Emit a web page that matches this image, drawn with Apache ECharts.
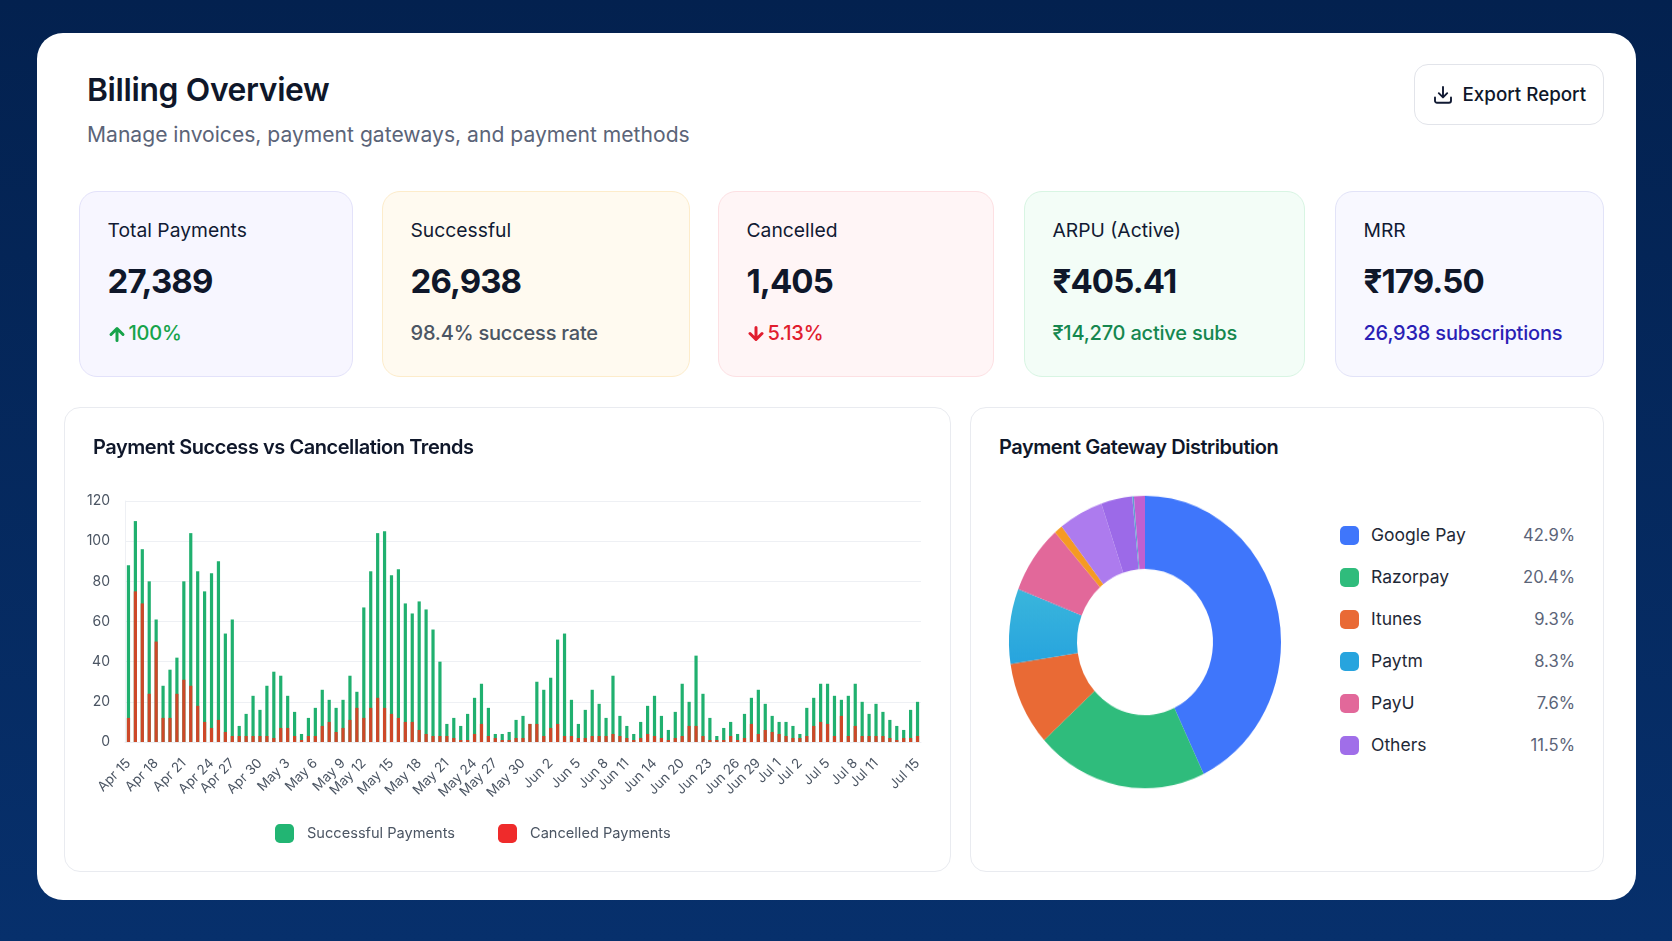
<!DOCTYPE html>
<html lang="en">
<head>
<meta charset="utf-8">
<title>Billing Overview</title>
<script src="https://cdn.jsdelivr.net/npm/echarts@6/dist/echarts.min.js"></script>
<style>
  * { box-sizing: border-box; margin: 0; padding: 0; }
  html, body { width: 1672px; height: 941px; overflow: hidden; }
  body { background: linear-gradient(180deg, #03214f 0%, #07306c 100%); font-family: Inter, "Noto Sans", sans-serif; position: relative; color: #0f172a; }
  .abs { position: absolute; }
  #sheet { left: 37px; top: 33px; width: 1599px; height: 867px; background: #fff; border-radius: 26px; }
  h1 { left: 87px; top: 70px; font-size: 31.8px; line-height: 40px; font-weight: 600; letter-spacing: -0.35px; white-space: nowrap; }
  #lead { left: 87px; top: 121px; font-size: 21.1px; line-height: 28px; color: #5b6478; white-space: nowrap; }
  #export { left: 1414px; top: 64px; width: 190px; height: 61px; border: 1.5px solid #e2e4ea; border-radius: 14px; background: #fff; }
  #export svg { position: absolute; left: 18px; top: 20px; }
  #export span { position: absolute; left: 47.5px; top: 17px; font-size: 18.8px; line-height: 26px; font-weight: 500; white-space: nowrap; }
  .kpi { top: 191px; height: 186px; border-radius: 18px; border: 1.5px solid; }
  .kpi .name { position: absolute; left: 27.5px; top: 25px; font-size: 19.3px; line-height: 26px; white-space: nowrap; color: #111a33; }
  .kpi .value { position: absolute; left: 27.5px; top: 67px; font-size: 33px; line-height: 44px; font-weight: 700; letter-spacing: -0.9px; white-space: nowrap; color: #0f172a; }
  .kpi .note { position: absolute; left: 27.5px; top: 127px; font-size: 20px; line-height: 28px; font-weight: 500; letter-spacing: -0.2px; white-space: nowrap; }
  .kpi .note svg { vertical-align: -2px; margin-right: 3px; }
  .panel { top: 407px; height: 465px; border: 1.5px solid #e9ebf0; border-radius: 16px; background: #fff; }
  .panel h2 { position: absolute; left: 28px; top: 25px; font-size: 20px; line-height: 28px; font-weight: 600; letter-spacing: -0.45px; white-space: nowrap; z-index: 2; }
  #trend { left: 64px; top: 407px; width: 886px; height: 464px; }
  #share { left: 985px; top: 492px; width: 320px; height: 300px; transform: scaleY(1.075); transform-origin: 50% 50%; }
  .row { left: 1340px; width: 235px; height: 20px; }
  .row i { position: absolute; left: 0; top: 0; width: 19px; height: 19px; border-radius: 5px; }
  .row b { position: absolute; left: 31px; top: -4px; font-size: 17.5px; line-height: 26px; font-weight: 400; color: #1f2937; white-space: nowrap; }
  .row em { position: absolute; right: 0; top: -4px; font-size: 16.6px; line-height: 26px; font-style: normal; color: #5b6478; }
</style>
</head>
<body>
<div class="abs" id="sheet"></div>
<h1 class="abs">Billing Overview</h1>
<div class="abs" id="lead">Manage invoices, payment gateways, and payment methods</div>
<div class="abs" id="export">
  <svg width="20" height="20" viewBox="0 0 20 20" fill="none" stroke="#111a33" stroke-width="1.9" stroke-linecap="round" stroke-linejoin="round">
    <path d="M10 2v10M5.8 8.2 10 12.4l4.2-4.2M2 12.5v3.2A2 2 0 0 0 4 17.7h12a2 2 0 0 0 2-2v-3.2"/>
  </svg>
  <span>Export Report</span>
</div>
<div id="kpis"></div>
<div class="abs panel" style="left:64px;width:887px"><h2>Payment Success vs Cancellation Trends</h2></div>
<div class="abs panel" style="left:970px;width:634px"><h2>Payment Gateway Distribution</h2></div>
<div class="abs" id="trend"></div>
<div class="abs" id="share"></div>
<div id="gatewayLegend"></div>

<script>
// Summary cards
const kpiNames  = ['Total Payments', 'Successful', 'Cancelled', 'ARPU (Active)', 'MRR'];
const kpiValues = ['27,389', '26,938', '1,405', '₹405.41', '₹179.50'];
const kpiNotes  = ['100%', '98.4% success rate', '5.13%', '₹14,270 active subs', '26,938 subscriptions'];
const kpiArrows = ['up', '', 'down', '', ''];

// Daily payment counts along the trend axis
const successfulPayments = [
  88,110,96,80,61,28,36,42,80,104,85,75,84,90,54,61,8,14,23,16,
  28,35,33,23,15,4,12,17,26,21,17,21,33,25,67,85,104,105,83,86,
  69,64,70,66,56,40,9,12,8,14,22,29,17,4,4,5,11,13,9,30,
  26,32,51,54,21,9,16,26,19,12,33,13,8,4,10,18,23,13,6,
  15,29,20,43,24,12,3,7,10,4,14,22,26,19,13,10,10,8,4,17,
  22,29,29,23,21,23,29,20,14,19,15,11,8,6,16,20
];
const cancelledPayments = [
  12,75,69,24,50,12,12,24,31,28,18,10,7,11,5,3,3,3,3,3,
  3,2,7,7,3,1,3,3,8,10,5,7,11,17,12,17,22,17,14,12,
  10,10,6,4,3,3,3,2,1,1,4,9,3,2,1,1,2,2,9,9,
  3,7,9,3,3,2,2,3,3,3,4,3,2,1,2,4,3,2,1,
  2,3,8,8,3,1,1,1,3,1,2,9,4,6,5,4,3,2,2,3,
  8,10,9,3,13,3,8,3,3,3,3,2,1,2,2,3
];
const tickLabels = [
  'Apr 15','Apr 18','Apr 21','Apr 24','Apr 27','Apr 30','May 3','May 6','May 9','May 12','May 15',
  'May 18','May 21','May 24','May 27','May 30','Jun 2','Jun 5','Jun 8','Jun 11','Jun 14',
  'Jun 20','Jun 23','Jun 26','Jun 29','Jul 1','Jul 2','Jul 5','Jul 8','Jul 11','Jul 15'
];
const tickSlots = [0,4,8,12,15,19,23,27,31,34,38,42,46,50,53,57,61,65,69,72,76,80,84,88,91,94,97,101,105,108,114];

// Gateway shares, in percent; the last group is broken into its smaller gateways
const gatewayNames  = ['Google Pay', 'Razorpay', 'Itunes', 'Paytm', 'PayU', 'Others'];
const gatewayShares = [42.9, 20.4, 9.3, 8.3, 7.6, 11.5];
const gatewayColors = ['#3f76fb', '#2fbc7c', '#e96a35', '#27a4de', '#e2689a', '#a06ee9'];
const othersParts   = [1.0, 5.3, 3.7, 0.2, 1.3];
const othersColors  = ['#f59a23', '#ad7bee', '#9c6ae8', '#60a0d0', '#c060d0'];

const arrow = (dir, color) => {
  const d = dir === 'up' ? 'M8 14.5V3M2 8.5 8 2.5l6 6' : 'M8 1.5V13M2 7.5l6 6 6-6';
  return `<svg width="18" height="16" viewBox="0 0 16 16" fill="none" stroke="${color}" stroke-width="3" stroke-linecap="round" stroke-linejoin="round"><path d="${d}"/></svg>`;
};
const kpiBoxes  = [[79, 274], [382, 308], [718, 276], [1024, 281], [1335, 269]];
const kpiFill   = ['#f7f6ff', '#fffaf0', '#fff5f6', '#f3fdf7', '#f8f8ff'];
const kpiEdge   = ['#e3e2fa', '#fdeccb', '#fde0e3', '#d8f5e3', '#e2e3f8'];
const kpiInk    = ['#16a34a', '#4b5563', '#e11d2e', '#15874f', '#2a1fb5'];
document.getElementById('kpis').innerHTML = kpiNames.map((name, i) => `
  <div class="abs kpi" style="left:${kpiBoxes[i][0]}px;width:${kpiBoxes[i][1]}px;background:${kpiFill[i]};border-color:${kpiEdge[i]}">
    <div class="name">${name}</div>
    <div class="value">${kpiValues[i]}</div>
    <div class="note" style="color:${kpiInk[i]}">${kpiArrows[i] ? arrow(kpiArrows[i], kpiInk[i]) : ''}${kpiNotes[i]}</div>
  </div>`).join('');

document.getElementById('gatewayLegend').innerHTML = gatewayNames.map((name, i) => `
  <div class="abs row" style="top:${526 + i * 41.9}px">
    <i style="background:${gatewayColors[i]}"></i><b>${name}</b><em>${gatewayShares[i].toFixed(1)}%</em>
  </div>`).join('');

// Trend chart
const categories = successfulPayments.map((_, i) => {
  const at = tickSlots.indexOf(i);
  return at >= 0 ? tickLabels[at] : '';
});
const axisInk = '#4b5563';
const trend = echarts.init(document.getElementById('trend'), null, { renderer: 'canvas' });
trend.setOption({
  animation: false,
  textStyle: { fontFamily: 'Inter' },
  grid: { left: 61, right: 29, top: 94, bottom: 129 },
  legend: {
    left: 206, top: 412, itemWidth: 19, itemHeight: 19, itemGap: 43, icon: 'roundRect',
    textStyle: { fontFamily: 'Inter', fontSize: 14.6, color: '#4b5563', padding: [0, 0, 0, 8] },
    data: [
      { name: 'Successful Payments', itemStyle: { color: '#22b573', opacity: 1 } },
      { name: 'Cancelled Payments', itemStyle: { color: '#ef2b2b', opacity: 1 } }
    ]
  },
  xAxis: {
    type: 'category', data: categories, boundaryGap: true,
    axisLine: { lineStyle: { color: '#eceef2' } }, axisTick: { show: false },
    axisLabel: {
      interval: 0, rotate: 45, margin: 19, color: axisInk, fontSize: 13.5, fontFamily: 'Inter',
      hideOverlap: false
    }
  },
  yAxis: {
    type: 'value', min: 0, max: 120, interval: 20,
    axisLine: { show: true, lineStyle: { color: '#eef0f4' } }, axisTick: { show: false },
    axisLabel: { margin: 15, color: axisInk, fontSize: 14, fontFamily: 'Inter' },
    splitLine: { lineStyle: { color: '#eef0f4' } }
  },
  series: [
    { name: 'Successful Payments', type: 'bar', data: successfulPayments, barWidth: 3.2, barGap: '-100%', itemStyle: { color: '#20b06f' } },
    { name: 'Cancelled Payments', type: 'bar', data: cancelledPayments, barWidth: 3.2, itemStyle: { color: '#e5391f', opacity: 0.88 } }
  ]
});

// Gateway donut
const slices = gatewayNames.slice(0, 5).map((name, i) => ({
  name, value: gatewayShares[i],
  itemStyle: { color: name === 'Paytm'
    ? new echarts.graphic.LinearGradient(0, 0, 0, 1, [{ offset: 0, color: '#3ab6dc' }, { offset: 1, color: '#27a4de' }])
    : gatewayColors[i] }
})).concat(othersParts.map((value, i) => ({
  name: 'Others ' + (i + 1), value, itemStyle: { color: othersColors[i] }
})));
const share = echarts.init(document.getElementById('share'), null, { renderer: 'canvas' });
share.setOption({
  animation: false,
  series: [{
    type: 'pie', radius: [68, 136], center: ['50%', '50%'], startAngle: 90, clockwise: true,
    label: { show: false }, labelLine: { show: false }, silent: true, data: slices
  }]
});
</script>
</body>
</html>
